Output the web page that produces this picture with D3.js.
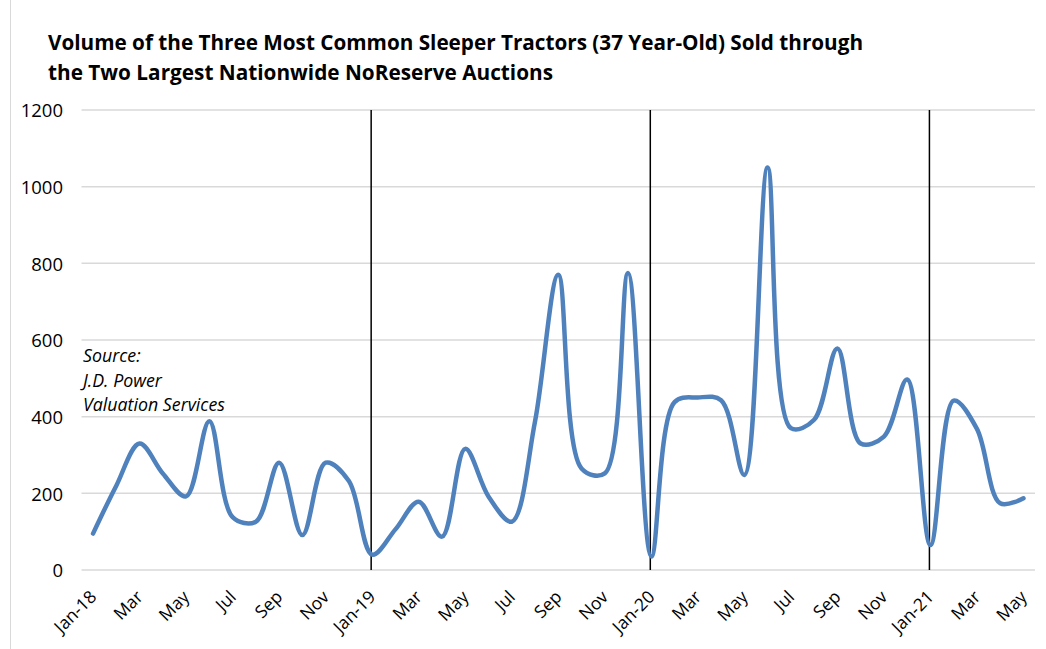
<!DOCTYPE html>
<html>
<head>
<meta charset="utf-8">
<script src="https://cdn.jsdelivr.net/npm/d3@7"></script>
<style>
  html, body { margin: 0; padding: 0; background: #fff; }
  svg { display: block; }
</style>
</head>
<body>
<svg id="chart" width="1046" height="649"></svg>
<script>
// Monthly sale counts, Jan 2018 through May 2021
const months = [
  "Jan-18","Feb-18","Mar-18","Apr-18","May-18","Jun-18","Jul-18","Aug-18","Sep-18","Oct-18","Nov-18","Dec-18",
  "Jan-19","Feb-19","Mar-19","Apr-19","May-19","Jun-19","Jul-19","Aug-19","Sep-19","Oct-19","Nov-19","Dec-19",
  "Jan-20","Feb-20","Mar-20","Apr-20","May-20","Jun-20","Jul-20","Aug-20","Sep-20","Oct-20","Nov-20","Dec-20",
  "Jan-21","Feb-21","Mar-21","Apr-21","May-21"
];
const volumes = [
  95, 220, 330, 252, 192, 388, 138, 126, 280, 91, 280, 232,
  40, 106, 178, 87, 316, 192, 126, 387, 770, 265, 252, 775,
  35, 438, 450, 443, 248, 1050, 370, 392, 578, 330, 348, 497,
  65, 442, 368, 174, 187
];
// Every other month is labelled; January labels carry the year
const tickLabels = {
  "Jan-18":"Jan-18","Mar-18":"Mar","May-18":"May","Jul-18":"Jul","Sep-18":"Sep","Nov-18":"Nov",
  "Jan-19":"Jan-19","Mar-19":"Mar","May-19":"May","Jul-19":"Jul","Sep-19":"Sep","Nov-19":"Nov",
  "Jan-20":"Jan-20","Mar-20":"Mar","May-20":"May","Jul-20":"Jul","Sep-20":"Sep","Nov-20":"Nov",
  "Jan-21":"Jan-21","Mar-21":"Mar","May-21":"May"
};
const yTicks = [0, 200, 400, 600, 800, 1000, 1200];
const yearMarks = ["Jan-19", "Jan-20", "Jan-21"];
const titleLines = [
  "Volume of the Three Most Common Sleeper Tractors (37 Year-Old) Sold through",
  "the Two Largest Nationwide NoReserve Auctions"
];
const sourceLines = ["Source:", "J.D. Power", "Valuation Services"];

const svg = d3.select("#chart");
const font = "'Open Sans', 'Liberation Sans', sans-serif";

// faint frame edge on the left
svg.append("line")
  .attr("x1", 10.5).attr("x2", 10.5).attr("y1", 0).attr("y2", 649)
  .attr("stroke", "#d9d9d9").attr("stroke-width", 1);

const x = d3.scalePoint().domain(months).range([81.4, 1035.1]).padding(0.5);
const y = d3.scaleLinear().domain([0, 1200]).range([570, 110]);

// horizontal gridlines
svg.append("g").selectAll("line").data(yTicks).join("line")
  .attr("x1", 81.5).attr("x2", 1035)
  .attr("y1", d => y(d)).attr("y2", d => y(d))
  .attr("stroke", "#d9d9d9").attr("stroke-width", 1.5);

// y axis labels
const yAxis = d3.axisLeft(y).tickValues(yTicks).tickSize(0).tickPadding(0).tickFormat(d3.format("d"));
svg.append("g").attr("transform", "translate(63,0)").call(yAxis)
  .call(g => g.select(".domain").remove())
  .selectAll("text")
  .attr("font-family", font).attr("font-size", 18.5).attr("fill", "#000")
  .attr("dy", "0.36em");

// x axis labels, rotated
const xAxis = d3.axisBottom(x).tickValues(Object.keys(tickLabels)).tickSize(0).tickPadding(0)
  .tickFormat(d => tickLabels[d]);
svg.append("g").attr("transform", "translate(0,570)").call(xAxis)
  .call(g => g.select(".domain").remove())
  .selectAll("text")
  .attr("font-family", font).attr("font-size", 17.5).attr("fill", "#000")
  .attr("text-anchor", "end")
  .attr("dy", null).attr("y", 0)
  .attr("transform", "translate(4,28) rotate(-45)");

// year separators
svg.append("g").selectAll("line").data(yearMarks).join("line")
  .attr("x1", d => x(d) - 1).attr("x2", d => x(d) - 1)
  .attr("y1", y(1200)).attr("y2", y(0))
  .attr("stroke", "#000").attr("stroke-width", 1.5);

// smoothed volume line
const line = d3.line()
  .x((d, i) => x(months[i]))
  .y(d => y(d))
  .curve(d3.curveCatmullRom.alpha(0.5));
svg.append("path").datum(volumes)
  .attr("d", line)
  .attr("fill", "none")
  .attr("stroke", "#4F81BD")
  .attr("stroke-width", 4.5)
  .attr("stroke-linejoin", "round")
  .attr("stroke-linecap", "round");

// title
const titleWidths = [815, 505];
svg.append("g").selectAll("text").data(titleLines).join("text")
  .attr("x", 48).attr("y", (d, i) => 50 + i * 30)
  .attr("font-family", font).attr("font-weight", "bold").attr("font-size", 20.5)
  .attr("fill", "#000")
  .attr("textLength", (d, i) => titleWidths[i])
  .attr("lengthAdjust", "spacingAndGlyphs")
  .text(d => d);

// source note
svg.append("g").selectAll("text").data(sourceLines).join("text")
  .attr("x", 83).attr("y", (d, i) => 362 + i * 24.5)
  .attr("font-family", font).attr("font-style", "italic").attr("font-size", 17.8)
  .attr("fill", "#000")
  .text(d => d);
</script>
</body>
</html>
